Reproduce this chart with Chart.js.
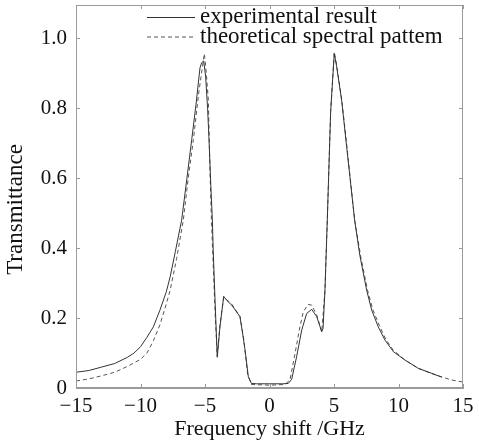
<!DOCTYPE html>
<html>
<head>
<meta charset="utf-8">
<script src="https://cdn.jsdelivr.net/npm/chart.js@4/dist/chart.umd.min.js"></script>
<style>
  html, body { margin: 0; padding: 0; background: #fff; }
</style>
</head>
<body>
<canvas id="spectrum" width="479" height="444"></canvas>
<script>
// data
const seriesNames = ['experimental result', 'theoretical spectral pattem'];

const expX = [-15, -14, -13, -12, -11, -10.5, -10, -9.5, -9, -8.5, -8, -7.7, -7.3, -6.81, -6.4, -6.03, -5.7, -5.39, -5.26, -5.1, -4.95, -4.8, -4.7, -4.55, -4.43, -4.36, -4.22, -4.05, -3.84, -3.55, -3.3, -2.93, -2.6, -2.29, -2.1, -1.9, -1.64, -1.4, -1, 0, 1, 1.46, 1.72, 2.1, 2.5, 2.88, 3.27, 3.66, 4.05, 4.15, 4.3, 4.48, 4.74, 5.02, 5.2, 5.6, 5.98, 6.6, 7, 7.53, 7.92, 8.43, 8.95, 9.6, 10.5, 11.54, 12.57, 13.35];
const expY = [0.045, 0.05, 0.06, 0.07, 0.088, 0.1, 0.118, 0.145, 0.175, 0.222, 0.275, 0.318, 0.39, 0.48, 0.6, 0.71, 0.81, 0.915, 0.93, 0.935, 0.89, 0.8, 0.72, 0.58, 0.48, 0.39, 0.25, 0.088, 0.175, 0.262, 0.25, 0.237, 0.22, 0.204, 0.16, 0.11, 0.032, 0.013, 0.012, 0.012, 0.012, 0.013, 0.025, 0.089, 0.166, 0.213, 0.225, 0.204, 0.161, 0.17, 0.28, 0.48, 0.79, 0.956, 0.92, 0.82, 0.69, 0.48, 0.38, 0.28, 0.223, 0.175, 0.137, 0.104, 0.08, 0.056, 0.042, 0.031];

const theoX = [-15, -14, -13, -12, -11, -10, -9.5, -9, -8.5, -8, -7.7, -7.2, -6.68, -6.3, -5.9, -5.5, -5.05, -4.9, -4.74, -4.6, -4.5, -4.35, -4.2, -4.05, -3.84, -3.55, -2.93, -2.29, -2, -1.7, -1.4, 0, 1.2, 1.59, 1.98, 2.36, 2.62, 3, 3.27, 3.66, 4.05, 4.3, 4.48, 4.74, 5.02, 5.2, 5.6, 6, 6.6, 7.1, 7.6, 8, 8.5, 9, 9.6, 10.5, 11.5, 12.5, 13.5, 14.1, 15];
const theoY = [0.02, 0.026, 0.035, 0.045, 0.062, 0.082, 0.1, 0.135, 0.18, 0.24, 0.28, 0.37, 0.48, 0.6, 0.71, 0.84, 0.956, 0.9, 0.823, 0.6, 0.48, 0.34, 0.2, 0.092, 0.18, 0.26, 0.24, 0.205, 0.14, 0.04, 0.01, 0.008, 0.01, 0.023, 0.099, 0.175, 0.218, 0.239, 0.237, 0.209, 0.16, 0.28, 0.48, 0.79, 0.961, 0.925, 0.825, 0.69, 0.48, 0.37, 0.28, 0.225, 0.18, 0.14, 0.108, 0.08, 0.057, 0.042, 0.03, 0.023, 0.017];

const xTicks = [-15, -10, -5, 0, 5, 10, 15];
const yTicks = [0, 0.2, 0.4, 0.6, 0.8, 1.0];
const yTickLabels = ['0', '0.2', '0.4', '0.6', '0.8', '1.0'];

const serif = '"Liberation Serif", "Times New Roman", serif';
const frameColor = '#9a9a9a';
const textColor = '#111';

const toPoints = (xs, ys) => xs.map((x, i) => ({ x: x, y: ys[i] }));

// kleine ticks naar binnen + rand rondom het plotvlak
const frameTicks = {
  id: 'frameTicks',
  afterDatasetsDraw(chart) {
    const { ctx, chartArea: a, scales } = chart;
    ctx.save();
    ctx.strokeStyle = frameColor;
    ctx.lineWidth = 1;
    ctx.strokeRect(a.left + 0.5, a.top + 0.5, a.right - a.left - 1, a.bottom - a.top - 1);
    ctx.beginPath();
    xTicks.forEach(v => {
      const px = Math.round(scales.x.getPixelForValue(v)) + 0.5;
      ctx.moveTo(px, a.bottom); ctx.lineTo(px, a.bottom - 4);
      ctx.moveTo(px, a.top); ctx.lineTo(px, a.top + 4);
    });
    yTicks.forEach(v => {
      const py = Math.round(scales.y.getPixelForValue(v)) + 0.5;
      ctx.moveTo(a.left, py); ctx.lineTo(a.left + 4, py);
      ctx.moveTo(a.right, py); ctx.lineTo(a.right - 4, py);
    });
    ctx.stroke();
    ctx.restore();
  }
};

// legenda binnen het plotvlak, rechtsboven
const insideLegend = {
  id: 'insideLegend',
  afterDatasetsDraw(chart) {
    const { ctx, chartArea: a } = chart;
    ctx.save();
    ctx.font = '23px ' + serif;
    ctx.textBaseline = 'middle';
    ctx.fillStyle = textColor;
    chart.data.datasets.forEach((ds, i) => {
      const y = a.top + 12 + i * 19.5;
      ctx.strokeStyle = ds.borderColor;
      ctx.lineWidth = 1;
      ctx.setLineDash(ds.borderDash || []);
      ctx.beginPath();
      ctx.moveTo(a.left + 71, y + 0.5);
      ctx.lineTo(a.left + 119, y + 0.5);
      ctx.stroke();
      ctx.fillText(ds.label, a.left + 124, y);
    });
    ctx.restore();
  }
};

// y-astitel
const yTitle = {
  id: 'yTitle',
  afterDraw(chart) {
    const { ctx, chartArea: a } = chart;
    ctx.save();
    ctx.translate(16, (a.top + a.bottom) / 2 + 13);
    ctx.rotate(-Math.PI / 2);
    ctx.font = '23px ' + serif;
    ctx.fillStyle = textColor;
    ctx.textAlign = 'center';
    ctx.textBaseline = 'middle';
    ctx.fillText('Transmittance', 0, 0);
    ctx.restore();
  }
};

new Chart(document.getElementById('spectrum').getContext('2d'), {
  type: 'line',
  data: {
    datasets: [
      {
        label: seriesNames[0],
        data: toPoints(expX, expY),
        borderColor: '#333',
        borderWidth: 1,
        pointRadius: 0,
        tension: 0
      },
      {
        label: seriesNames[1],
        data: toPoints(theoX, theoY),
        borderColor: '#555',
        borderWidth: 1,
        borderDash: [4, 3],
        pointRadius: 0,
        tension: 0
      }
    ]
  },
  options: {
    responsive: false,
    animation: false,
    devicePixelRatio: 1,
    layout: { padding: { top: 5, right: 16, left: 0, bottom: 0 } },
    plugins: {
      legend: { display: false },
      tooltip: { enabled: false }
    },
    scales: {
      x: {
        type: 'linear',
        min: -15,
        max: 15,
        afterBuildTicks: s => { s.ticks = xTicks.map(v => ({ value: v })); },
        afterFit: s => { s.height = 56; s.paddingLeft = 0; s.paddingRight = 0; },
        ticks: {
          autoSkip: false,
          maxRotation: 0,
          padding: 6,
          color: textColor,
          font: { family: serif, size: 21 },
          callback: v => (v < 0 ? '\u2212' + Math.abs(v) : String(v))
        },
        grid: { display: true, drawOnChartArea: false, drawTicks: false },
        border: { display: true, color: frameColor },
        title: {
          display: true,
          text: 'Frequency shift /GHz',
          color: textColor,
          font: { family: serif, size: 22 },
          padding: { top: 0, bottom: 2 }
        }
      },
      y: {
        type: 'linear',
        min: 0,
        max: 1.095,
        afterBuildTicks: s => { s.ticks = yTicks.map(v => ({ value: v })); },
        afterFit: s => { s.width = 76; s.paddingTop = 0; s.paddingBottom = 0; },
        ticks: {
          padding: 9,
          color: textColor,
          font: { family: serif, size: 21 },
          callback: (v, i) => yTickLabels[i]
        },
        grid: { display: true, drawOnChartArea: false, drawTicks: false },
        border: { display: true, color: frameColor }
      }
    }
  },
  plugins: [frameTicks, insideLegend, yTitle]
});
</script>
</body>
</html>
